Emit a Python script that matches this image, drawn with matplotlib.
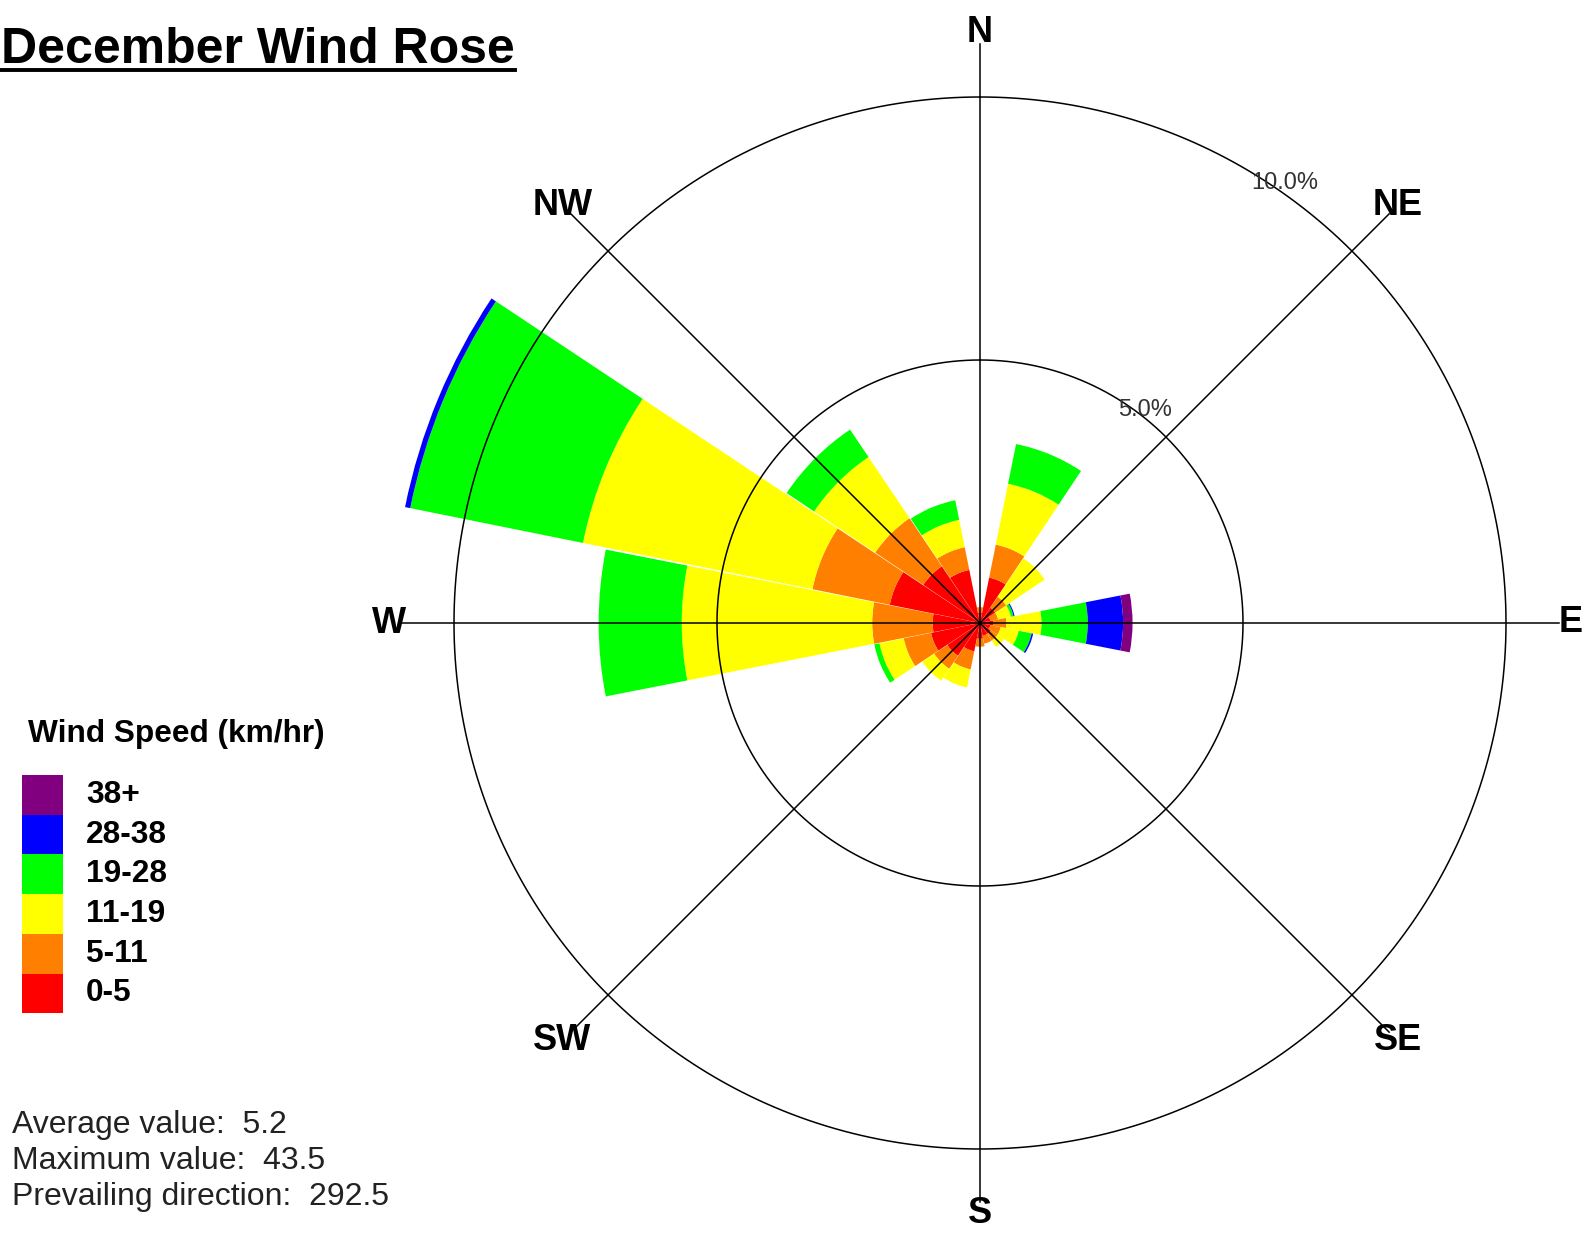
import numpy as np
import matplotlib
matplotlib.use("Agg")
import matplotlib.pyplot as plt
from matplotlib.patches import Rectangle
from matplotlib.lines import Line2D

plt.rcParams['font.family'] = ['Liberation Sans', 'DejaVu Sans']

# ---------------- data ----------------
directions = ['N', 'NNE', 'NE', 'ENE', 'E', 'ESE', 'SE', 'SSE',
              'S', 'SSW', 'SW', 'WSW', 'W', 'WNW', 'NW', 'NNW']
dir_angles = [0.0, 22.5, 45.0, 67.5, 90.0, 112.5, 135.0, 157.5,
              180.0, 202.5, 225.0, 247.5, 270.0, 292.5, 315.0, 337.5]
speed_bins = ['0-5', '5-11', '11-19', '19-28', '28-38', '38+']
bin_colors = ['#ff0000', '#ff8000', '#ffff00', '#00ff00', '#0000ff', '#800080']

# percent frequency of each speed bin per direction
f_0_5   = [0.20, 0.88, 0.35, 0.20, 0.25, 0.20, 0.25, 0.25, 0.30, 0.55, 0.75, 0.95, 0.90, 1.75, 1.30, 1.03]
f_5_11  = [0.10, 0.64, 0.25, 0.15, 0.25, 0.20, 0.15, 0.15, 0.15, 0.35, 0.30, 0.53, 1.15, 1.50, 1.10, 0.44]
f_11_19 = [0.00, 1.18, 0.88, 0.25, 0.67, 0.35, 0.15, 0.00, 0.00, 0.35, 0.27, 0.47, 3.62, 4.45, 1.40, 0.53]
f_19_28 = [0.00, 0.77, 0.00, 0.05, 0.88, 0.25, 0.00, 0.00, 0.00, 0.00, 0.00, 0.10, 1.58, 3.35, 0.63, 0.38]
f_28_38 = [0.00, 0.00, 0.00, 0.02, 0.67, 0.03, 0.00, 0.00, 0.00, 0.00, 0.00, 0.00, 0.00, 0.10, 0.00, 0.00]
f_38p   = [0.00, 0.00, 0.00, 0.00, 0.18, 0.00, 0.00, 0.00, 0.00, 0.00, 0.00, 0.00, 0.00, 0.00, 0.00, 0.00]
bin_values = [f_0_5, f_5_11, f_11_19, f_19_28, f_28_38, f_38p]

ring_values = [5.0, 10.0]
ring_labels = ['5.0%', '10.0%']
compass_labels = ['N', 'NE', 'E', 'SE', 'S', 'SW', 'W', 'NW']
compass_angles = [0, 45, 90, 135, 180, 225, 270, 315]

title = 'December Wind Rose'
legend_title = 'Wind Speed (km/hr)'
stats_lines = ['Average value:  5.2', 'Maximum value:  43.5', 'Prevailing direction:  292.5']

# ---------------- figure ----------------
W, H = 1588, 1234
fig = plt.figure(figsize=(W / 100, H / 100), dpi=100)
fig.patch.set_facecolor('white')

R = 11.3
px_per = 52.6
cx, cy = 980, 623
half = R * px_per
ax = fig.add_axes([(cx - half) / W, (H - cy - half) / H, 2 * half / W, 2 * half / H],
                  projection='polar')
ax.set_theta_zero_location('N')
ax.set_theta_direction(-1)
ax.set_ylim(0, R)
ax.axis('off')

theta = np.deg2rad(dir_angles)
width = np.deg2rad(22.2)
bottom = np.zeros(len(directions))
for vals, col in zip(bin_values, bin_colors):
    v = np.array(vals)
    ax.bar(theta, v, width=width, bottom=bottom, color=col, edgecolor='none',
           linewidth=0, align='center', zorder=2)
    bottom += v

# rings
tt = np.linspace(0, 2 * np.pi, 721)
for rv in ring_values:
    ax.plot(tt, np.full_like(tt, rv), color='black', lw=1.1, zorder=3)

# spokes
for a in compass_angles:
    ax.plot([np.deg2rad(a), np.deg2rad(a)], [0, 11.0], color='black', lw=1.1, zorder=3)

# ring labels
ax.text(np.deg2rad(37.8), 5.12, ring_labels[0], ha='center', va='center',
        fontsize=17, color='#333333', zorder=4)
ax.text(np.deg2rad(34.7), 10.17, ring_labels[1], ha='center', va='center',
        fontsize=17, color='#333333', zorder=4)

# compass labels
for lab, a in zip(compass_labels, compass_angles):
    ax.text(np.deg2rad(a), 11.23, lab, ha='center', va='center', fontsize=26,
            fontweight='bold', color='black', clip_on=False, zorder=5)

# title with underline
t = fig.text(1 / W, 1 - 63 / H, title, ha='left', va='baseline',
             fontsize=36, fontweight='bold', color='black')
fig.canvas.draw()
bb = t.get_window_extent(renderer=fig.canvas.get_renderer())
fig.lines.append(Line2D([0, bb.x1 / W], [1 - 70 / H, 1 - 70 / H], color='black',
                        lw=2.8, transform=fig.transFigure, figure=fig))

# legend
fig.text(28 / W, 1 - 734 / H, legend_title, ha='left', va='center',
         fontsize=22.8, fontweight='bold', color='black')
box_top = 775
box_h = 39.7
for i, (lab, col) in enumerate(zip(speed_bins[::-1], bin_colors[::-1])):
    y0 = box_top + i * box_h
    fig.patches.append(Rectangle((22 / W, 1 - (y0 + box_h) / H), 41 / W, box_h / H,
                                 transform=fig.transFigure, facecolor=col,
                                 edgecolor='none', figure=fig))
    fig.text(86 / W, 1 - (y0 + box_h / 2) / H, lab, ha='left', va='center',
             fontsize=22.8, fontweight='bold', color='black')

# stats
for i, s in enumerate(stats_lines):
    fig.text(12 / W, 1 - (1125 + i * 36) / H, s, ha='left', va='center',
             fontsize=23, color='#222222')

fig.savefig('out.png', dpi=100, facecolor='white')
